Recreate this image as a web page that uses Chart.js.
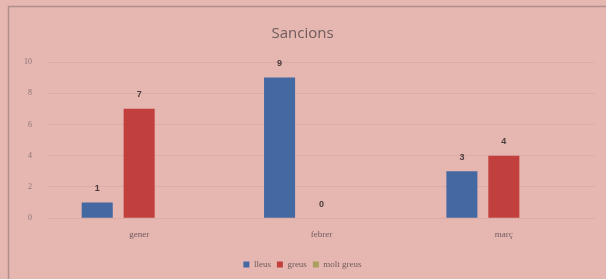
<!DOCTYPE html>
<html>
<head>
<meta charset="utf-8">
<script src="https://cdn.jsdelivr.net/npm/chart.js@4/dist/chart.umd.min.js"></script>
<style>
html,body{margin:0;padding:0;background:#e6b6b1;}
#wrap{position:absolute;left:0;top:0;width:606px;height:279px;}
</style>
</head>
<body>
<div id="wrap"><canvas id="c" width="606" height="279"></canvas></div>
<script>
const categories = ['gener', 'febrer', 'març'];
const seriesNames = ['lleus', 'greus', 'molt greus'];
const lleus = [1, 9, 3];
const greus = [7, 0, 4];
const moltGreus = [null, null, null];
const yTicks = [0, 2, 4, 6, 8, 10];

const colors = ['#4468a2', '#c1403d', '#a9a060'];

const framePlugin = {
  id: 'frame',
  beforeDraw(chart) {
    const ctx = chart.ctx;
    ctx.save();
    ctx.fillStyle = '#e6b6b1';
    ctx.fillRect(0, 0, chart.width, chart.height);
    ctx.strokeStyle = '#b08e8b';
    ctx.lineWidth = 1.5;
    ctx.strokeRect(8.5, 6.5, 640, 320);
    ctx.restore();
  }
};

const labelPlugin = {
  id: 'vals',
  afterDatasetsDraw(chart) {
    const ctx = chart.ctx;
    ctx.save();
    ctx.font = 'bold 9px "Liberation Sans"';
    ctx.fillStyle = '#4a3c3c';
    ctx.textAlign = 'center';
    ctx.textBaseline = 'middle';
    [0, 1].forEach(di => {
      const meta = chart.getDatasetMeta(di);
      meta.data.forEach((bar, i) => {
        const v = chart.data.datasets[di].data[i];
        if (v === null || v === undefined) return;
        ctx.fillText(String(v), bar.x, bar.y - 14);
      });
    });
    ctx.restore();
  }
};

new Chart(document.getElementById('c'), {
  type: 'bar',
  data: {
    labels: categories,
    datasets: [
      { label: seriesNames[0], data: lleus, backgroundColor: colors[0] },
      { label: seriesNames[1], data: greus, backgroundColor: colors[1] },
      { label: seriesNames[2], data: moltGreus, backgroundColor: colors[2] }
    ]
  },
  options: {
    responsive: false,
    animation: false,
    devicePixelRatio: 1,
    layout: { padding: { left: 10, right: 11, top: 0, bottom: 0 } },
    datasets: { bar: { categoryPercentage: 0.69, barPercentage: 0.74 } },
    plugins: {
      title: {
        display: true,
        text: 'Sancions',
        color: '#6e5c5c',
        font: { family: '"Open Sans"', size: 15, weight: 'normal' },
        padding: { top: 25, bottom: 19 }
      },
      legend: {
        position: 'bottom',
        labels: {
          boxWidth: 6, boxHeight: 6, color: '#6e5c5c',
          font: { family: '"Liberation Serif"', size: 9 },
          padding: 6
        }
      },
      tooltip: { enabled: false }
    },
    scales: {
      x: {
        afterFit(s) { s.height += 3; },
        grid: { display: false, drawTicks: false },
        border: { display: false },
        ticks: { color: '#6e5c5c', font: { family: '"Liberation Serif"', size: 9 }, padding: 11 }
      },
      y: {
        min: 0, max: 10,
        afterFit(s) { s.width = 38; },
        afterBuildTicks(s) { s.ticks = yTicks.map(v => ({ value: v })); },
        grid: { color: '#dbaca8', drawTicks: false, lineWidth: 1 },
        border: { display: false },
        ticks: { color: '#8a7676', font: { family: '"Liberation Serif"', size: 8 }, padding: 16 }
      }
    }
  },
  plugins: [framePlugin, labelPlugin]
});
</script>
</body>
</html>
